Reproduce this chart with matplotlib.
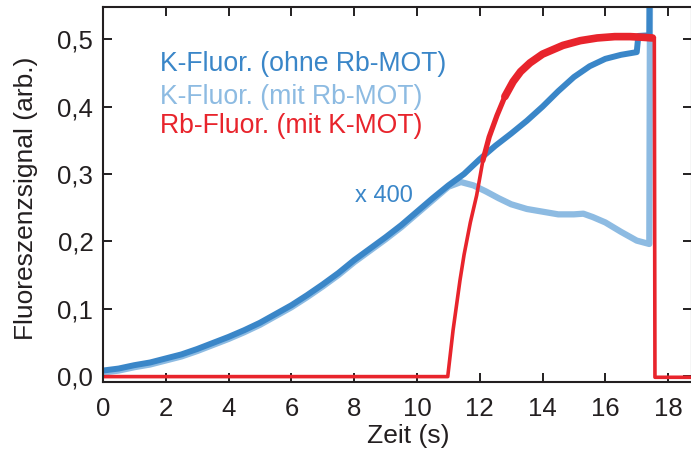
import matplotlib as mpl
mpl.use('Agg')
import matplotlib.pyplot as plt
from matplotlib.ticker import FuncFormatter, MultipleLocator

plt.rcParams['font.family'] = ['Liberation Sans', 'DejaVu Sans']

# K fluorescence without Rb-MOT (x400)
t_k = [0, 0.5, 1, 1.5, 2, 2.5, 3, 3.5, 4, 4.5, 5, 5.5, 6, 6.5, 7, 7.5, 8, 8.5,
       9, 9.5, 10, 10.5, 11, 11.5, 12, 12.5, 13, 13.5, 14, 14.5, 15, 15.5, 16,
       16.5, 17.0, 17.05, 17.4, 17.42, 17.54]
k_ohne = [0.008, 0.011, 0.016, 0.020, 0.026, 0.032, 0.040, 0.049, 0.058, 0.068,
          0.079, 0.092, 0.105, 0.120, 0.136, 0.153, 0.172, 0.189, 0.206, 0.224,
          0.244, 0.264, 0.283, 0.300, 0.322, 0.342, 0.360, 0.379, 0.400, 0.423,
          0.444, 0.460, 0.471, 0.477, 0.481, 0.505, 0.506, 0.7, 0.7]

# K fluorescence with Rb-MOT
t_km = [0, 0.5, 1, 1.5, 2, 2.5, 3, 3.5, 4, 4.5, 5, 5.5, 6, 6.5, 7, 7.5, 8, 8.5,
        9, 9.5, 10, 10.5, 11, 11.4, 11.8, 12.2, 12.6, 13, 13.5, 14, 14.5, 15,
        15.3, 15.6, 16, 16.5, 17, 17.4, 17.43, 17.55]
k_mit = [0.005, 0.008, 0.013, 0.017, 0.023, 0.029, 0.037, 0.046, 0.055, 0.065,
         0.076, 0.089, 0.102, 0.117, 0.133, 0.150, 0.169, 0.186, 0.203, 0.221,
         0.241, 0.261, 0.281, 0.288, 0.283, 0.274, 0.264, 0.255, 0.248, 0.244,
         0.240, 0.240, 0.241, 0.236, 0.228, 0.214, 0.201, 0.196, 0.7, 0.7]

# Rb fluorescence with K-MOT
t_rb = [0, 10.98, 11.15, 11.37, 11.5, 11.7, 11.9, 12.1, 12.3, 12.55, 12.8,
        13.06, 13.3, 13.6, 14.0, 14.65, 15.2, 15.74, 16.3, 16.79, 17.2, 17.5,
        17.56, 17.58, 18.8]
rb_mit = [-0.001, -0.001, 0.068, 0.142, 0.180, 0.228, 0.268, 0.320, 0.355,
          0.387, 0.415, 0.437, 0.452, 0.465, 0.478, 0.491, 0.498, 0.502, 0.504,
          0.504, 0.503, 0.502, 0.500, -0.002, -0.002]

c_dark = '#3a86c8'
c_light = '#8dbbe2'
c_red = '#e8242c'
c_txt = '#231f20'

fig = plt.figure(figsize=(6.91, 4.54), dpi=100)
ax = fig.add_axes([103 / 691, 72 / 454, 589 / 691, 375 / 454])

ax.plot(t_km, k_mit, color=c_light, lw=4.5, solid_joinstyle='round')
ax.plot(t_k, k_ohne, color=c_dark, lw=4.3, solid_joinstyle='round')
ax.plot(t_rb, rb_mit, color=c_red, lw=2.6)
# the noisy Rb signal gets broader towards the plateau
ax.plot(t_rb[7:22], rb_mit[7:22], color=c_red, lw=3.8, solid_capstyle='round')
ax.plot(t_rb[10:22], rb_mit[10:22], color=c_red, lw=5.5, solid_capstyle='round')

ax.set_xlim(0, 18.76)
ax.set_ylim(-0.009, 0.548)
ax.xaxis.set_major_locator(MultipleLocator(2))
ax.yaxis.set_major_locator(MultipleLocator(0.1))
ax.yaxis.set_major_formatter(FuncFormatter(lambda v, p: f'{v:.1f}'.replace('.', ',')))

for s in ax.spines.values():
    s.set_linewidth(1.5)
    s.set_color(c_txt)
ax.tick_params(direction='in', length=6.5, width=1.4, color=c_txt,
               labelsize=18.5, labelcolor=c_txt, top=True, right=True)
ax.tick_params(axis='x', pad=10.5)
ax.tick_params(axis='y', pad=7)

ax.set_xlabel('Zeit (s)', fontsize=19, color=c_txt)
ax.xaxis.set_label_coords(0.518, -0.112)
ax.set_ylabel('Fluoreszenzsignal (arb.)', fontsize=19, color=c_txt)
ax.yaxis.set_label_coords(-0.110, 0.49)

ax.text(1.82, 0.463, 'K-Fluor. (ohne Rb-MOT)', color=c_dark, fontsize=19.2, va='center')
ax.text(1.82, 0.415, 'K-Fluor. (mit Rb-MOT)', color=c_light, fontsize=19.2, va='center')
ax.text(1.82, 0.371, 'Rb-Fluor. (mit K-MOT)', color=c_red, fontsize=19.2, va='center')
ax.text(8.03, 0.268, 'x 400', color=c_dark, fontsize=17, va='center')

plt.savefig('out.png', format='png', dpi=100)
